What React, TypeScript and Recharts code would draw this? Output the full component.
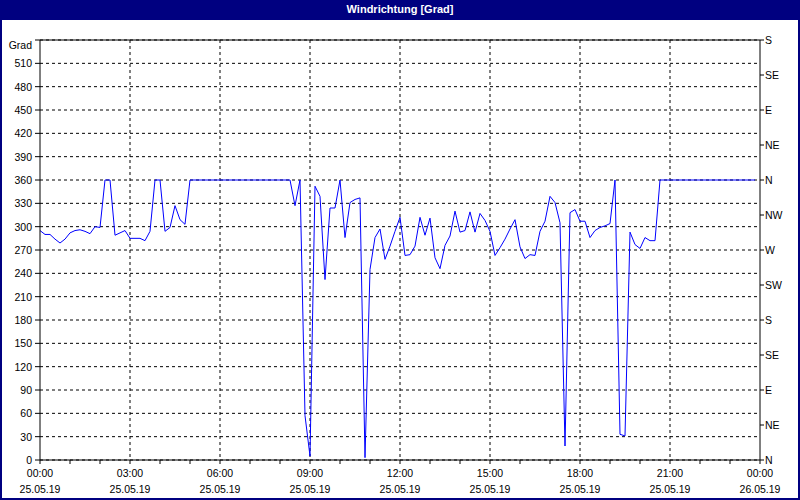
import { LineChart, Line, XAxis, YAxis, CartesianGrid, ReferenceLine } from "recharts";

const FONT = "'Liberation Sans', Arial, sans-serif";
const NAVY = "#000080";
const TICK_FONT = 10.5;

// wind direction in degrees, one value every 10 minutes from 25.05.19 00:00
const stepMinutes = 10;
const windDirection = [
  295, 290, 290, 284, 279, 284, 292, 295, 296, 294, 291, 300, 299, 360, 360, 289, 292, 295, 285, 285,
  285, 282, 294, 360, 360, 294, 299, 327, 309, 303, 360, 360, 360, 360, 360, 360, 360, 360, 360, 360,
  360, 360, 360, 360, 360, 360, 360, 360, 360, 360, 360, 327, 360, 57, 5, 352, 339, 232, 324, 324,
  360, 286, 331, 335, 337, 3, 245, 286, 297, 258, 275, 294, 312, 263, 264, 275, 312, 289, 311, 260,
  246, 276, 288, 320, 293, 295, 319, 293, 317, 308, 294, 263, 273, 284, 297, 309, 274, 259, 264, 263,
  294, 307, 339, 331, 305, 18, 318, 322, 307, 307, 286, 295, 299, 301, 304, 360, 33, 31, 293, 277,
  272, 286, 282, 282, 360, 360, 360, 360, 360, 360, 360, 360, 360, 360, 360, 360, 360, 360, 360, 360,
  360, 360, 360, 360,
];

const hourTicks = Array.from({ length: 25 }, (_, i) => i);
const gridHours = [3, 6, 9, 12, 15, 18, 21];
const gradTicks = [0, 30, 60, 90, 120, 150, 180, 210, 240, 270, 300, 330, 360, 390, 420, 450, 480, 510, 540];
const compassTicks = [0, 45, 90, 135, 180, 225, 270, 315, 360, 405, 450, 495, 540];
const compassLabels = ["N", "NE", "E", "SE", "S", "SW", "W", "NW", "N", "NE", "E", "SE", "S"];
const timeLabels = ["00:00", "03:00", "06:00", "09:00", "12:00", "15:00", "18:00", "21:00", "00:00"];
const dateLabels = ["25.05.19", "25.05.19", "25.05.19", "25.05.19", "25.05.19", "25.05.19", "25.05.19", "25.05.19", "26.05.19"];

const data = windDirection.map((v, i) => ({ h: (i * stepMinutes) / 60, v }));

function GradTick({ x, y, payload }: any) {
  const top = payload.value === 540;
  return (
    <text x={x} y={top ? y + 5 : y} textAnchor="end" dominantBaseline="central" fontSize={TICK_FONT} fontFamily={FONT} fill="#000">
      {top ? "Grad" : payload.value}
    </text>
  );
}

function CompassTick({ x, y, payload }: any) {
  const idx = compassTicks.indexOf(payload.value);
  return (
    <text x={x} y={y} textAnchor="start" dominantBaseline="central" fontSize={TICK_FONT} fontFamily={FONT} fill="#000">
      {compassLabels[idx]}
    </text>
  );
}

function TimeTick({ x, y, payload }: any) {
  const h = payload.value;
  if (h % 3 !== 0) return null;
  const idx = h / 3;
  return (
    <g fontSize={TICK_FONT} fontFamily={FONT} fill="#000">
      <text x={x} y={y + 7} textAnchor="middle" dominantBaseline="central">{timeLabels[idx]}</text>
      <text x={x} y={y + 23} textAnchor="middle" dominantBaseline="central">{dateLabels[idx]}</text>
    </g>
  );
}

export default function App() {
  return (
    <div style={{ position: "absolute", left: 0, top: 0, width: 800, height: 500, background: "#fff", fontFamily: FONT }}>
      <LineChart width={800} height={500} data={data} margin={{ top: 40, right: 0, bottom: 0, left: 0 }}>
        <CartesianGrid
          yAxisId="left"
          stroke="#000"
          strokeDasharray="3 3"
          fill="#fff"
          verticalCoordinatesGenerator={(props: any) => {
            const { xAxis, offset } = props;
            return gridHours.map((h) =>
              xAxis && typeof xAxis.scale === "function" ? xAxis.scale(h) : offset.left + (h / 24) * offset.width
            );
          }}
        />
        <XAxis
          dataKey="h"
          type="number"
          domain={[0, 24]}
          ticks={hourTicks}
          interval={0}
          height={40}
          tickSize={4}
          tickMargin={2}
          stroke="#000"
          tickLine={{ stroke: "#000" }}
          axisLine={{ stroke: "#000" }}
          tick={<TimeTick />}
        />
        <YAxis
          yAxisId="left"
          type="number"
          domain={[0, 540]}
          ticks={gradTicks}
          interval={0}
          width={40}
          tickSize={5}
          tickMargin={3}
          tickLine={{ stroke: "#000" }}
          axisLine={{ stroke: "#000" }}
          tick={<GradTick />}
          allowDataOverflow
        />
        <YAxis
          yAxisId="right"
          orientation="right"
          type="number"
          domain={[0, 540]}
          ticks={compassTicks}
          interval={0}
          width={40}
          tickSize={4}
          tickMargin={1}
          tickLine={{ stroke: "#000" }}
          axisLine={{ stroke: "#000" }}
          tick={<CompassTick />}
          allowDataOverflow
        />
        <ReferenceLine yAxisId="left" y={540} stroke="#000" strokeWidth={1} />
        <Line
          yAxisId="left"
          type="linear"
          dataKey="v"
          stroke="#0000ff"
          strokeWidth={1}
          dot={false}
          activeDot={false}
          isAnimationActive={false}
        />
      </LineChart>
      <div
        style={{
          position: "absolute",
          left: 0,
          top: 0,
          width: 800,
          height: 20,
          background: NAVY,
          color: "#fff",
          fontWeight: "bold",
          fontSize: 11,
          lineHeight: "19px",
          textAlign: "center",
        }}
      >
        Windrichtung [Grad]
      </div>
      <div
        style={{
          position: "absolute",
          left: 0,
          top: 0,
          width: 800,
          height: 500,
          border: `2px solid ${NAVY}`,
          boxSizing: "border-box",
          pointerEvents: "none",
        }}
      />
    </div>
  );
}
